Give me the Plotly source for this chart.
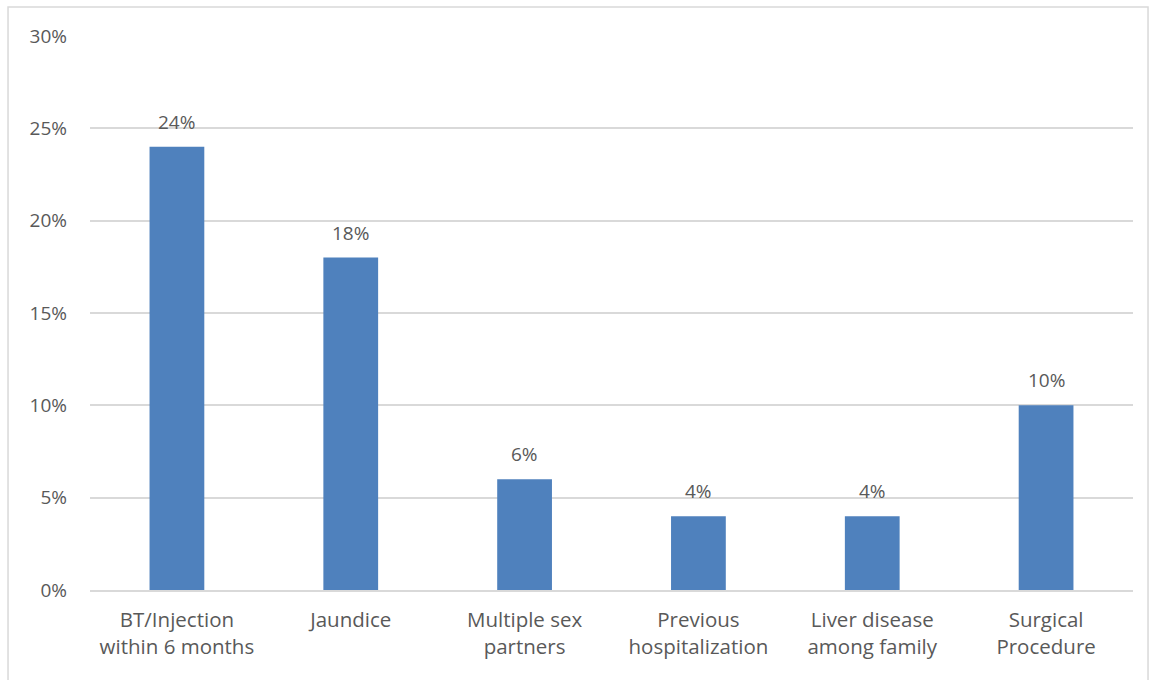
import plotly.graph_objects as go

categories = [
    "BT/Injection<br>within 6 months",
    "Jaundice",
    "Multiple sex<br>partners",
    "Previous<br>hospitalization",
    "Liver disease<br>among family",
    "Surgical<br>Procedure",
]
values = [24, 18, 6, 4, 4, 10]
y_ticks = [0, 5, 10, 15, 20, 25, 30]
y_tick_labels = [f"{v}%" for v in y_ticks]

font_family = "Open Sans, Liberation Sans, sans-serif"
text_color = "#595959"

fig = go.Figure(
    go.Bar(
        x=categories,
        y=values,
        marker=dict(color="#4f81bd", line=dict(width=0)),
        width=0.315,
        cliponaxis=False,
    )
)

# value labels above each bar
for cat, v in zip(categories, values):
    fig.add_annotation(
        x=cat,
        y=v,
        text=f"{v}%",
        showarrow=False,
        yanchor="middle",
        yshift=25,
        font=dict(size=19, color=text_color, family=font_family),
    )

fig.update_layout(
    width=1156,
    height=680,
    margin=dict(l=90, r=23, t=36, b=90),
    paper_bgcolor="white",
    plot_bgcolor="white",
    showlegend=False,
    font=dict(family=font_family, size=18, color=text_color),
    shapes=[
        dict(
            type="rect",
            xref="paper",
            yref="paper",
            x0=-0.0786,
            x1=1.0144,
            y0=-0.3,
            y1=1.0523,
            line=dict(color="#d9d9d9", width=1.5),
            fillcolor="rgba(0,0,0,0)",
            layer="below",
        )
    ],
)

fig.update_xaxes(
    showgrid=False,
    showline=True,
    linecolor="#d9d9d9",
    linewidth=1.5,
    ticks="",
    tickfont=dict(size=20.5, color=text_color),
    ticklabelstandoff=11,
)
fig.update_yaxes(
    range=[0, 30],
    tickvals=y_ticks,
    ticktext=y_tick_labels,
    showgrid=True,
    gridcolor="#d9d9d9",
    gridwidth=1.5,
    zeroline=False,
    showline=False,
    ticks="",
    tickfont=dict(size=19, color=text_color),
    ticklabelstandoff=22,
)

fig.write_html("out.html")
